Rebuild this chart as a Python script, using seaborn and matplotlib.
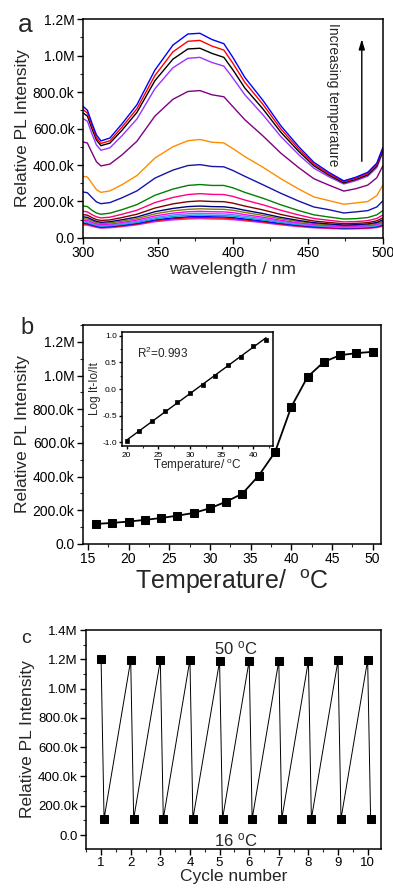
import numpy as np
import pandas as pd
import matplotlib
matplotlib.use("Agg")
import matplotlib.pyplot as plt
from matplotlib.ticker import FuncFormatter, MultipleLocator
import seaborn as sns

# ---- panel a: PL spectra (intensity in k counts) ----
wavelength = [300, 303, 306, 309, 312, 318, 326, 336, 348, 360, 370, 378, 386,
              394, 400, 408, 420, 432, 444, 454, 464, 474, 482, 490, 496, 500]

spec_blue = [722, 700, 630, 565, 532, 548, 625, 730, 920, 1057, 1118, 1122, 1088,
             1065, 990, 880, 755, 615, 500, 415, 360, 313, 333, 360, 410, 495]
spec_red = [704, 685, 615, 550, 518, 533, 607, 708, 890, 1020, 1078, 1083, 1052,
            1030, 958, 853, 733, 598, 487, 405, 352, 308, 327, 353, 402, 487]
spec_black = [686, 668, 600, 537, 506, 520, 590, 688, 862, 980, 1036, 1040, 1012,
              990, 922, 822, 708, 580, 474, 396, 345, 302, 321, 346, 395, 478]
spec_violet = [655, 640, 572, 510, 481, 494, 560, 652, 818, 933, 985, 990, 962,
               942, 877, 785, 676, 556, 456, 383, 336, 296, 314, 339, 386, 468]
spec_purple = [527, 520, 468, 418, 395, 405, 455, 530, 668, 760, 803, 808, 785,
               774, 720, 648, 560, 465, 385, 325, 290, 257, 270, 290, 330, 395]
spec_orange = [338, 334, 300, 265, 250, 258, 292, 342, 438, 500, 533, 540, 525,
               521, 490, 446, 388, 325, 268, 225, 205, 185, 192, 200, 232, 290]
spec_royal = [252, 248, 222, 198, 188, 194, 220, 258, 328, 372, 397, 402, 392,
              390, 370, 338, 292, 245, 202, 170, 155, 137, 143, 150, 170, 203]
spec_green = [176, 172, 152, 137, 130, 136, 155, 183, 234, 268, 288, 293, 288,
              288, 275, 250, 218, 182, 150, 127, 115, 104, 106, 112, 127, 150]
spec_pink = [147, 143, 128, 116, 110, 114, 130, 152, 194, 222, 238, 243, 239,
             238, 228, 208, 182, 152, 126, 107, 97, 88, 90, 95, 107, 126]
spec_wine = [128, 125, 112, 101, 96, 99, 112, 130, 164, 187, 199, 203, 200,
             199, 191, 175, 154, 129, 108, 93, 85, 78, 80, 84, 94, 110]
spec_navy = [116, 113, 101, 91, 86, 89, 100, 115, 144, 162, 172, 175, 172,
             171, 165, 152, 134, 113, 96, 84, 77, 71, 73, 77, 85, 99]
spec_olive = [106, 104, 94, 84, 79, 82, 92, 106, 132, 149, 157, 160, 158,
              157, 152, 140, 124, 105, 90, 79, 72, 67, 69, 72, 80, 92]
spec_magenta = [98, 96, 87, 78, 73, 76, 85, 98, 121, 136, 144, 146, 144,
                143, 139, 128, 114, 97, 83, 74, 68, 63, 65, 68, 75, 86]
spec_ltblue = [91, 89, 81, 73, 68, 71, 79, 91, 112, 126, 133, 135, 133,
               132, 128, 119, 106, 91, 78, 70, 64, 60, 61, 64, 70, 81]
spec_cyan = [86, 84, 76, 69, 64, 67, 74, 85, 105, 118, 124, 126, 124,
             123, 120, 111, 99, 85, 73, 66, 61, 57, 58, 61, 66, 76]
spec_blue2 = [81, 79, 72, 65, 60, 63, 70, 80, 99, 110, 116, 118, 116,
              115, 112, 104, 93, 80, 69, 62, 58, 54, 55, 58, 63, 72]
spec_red2 = [77, 75, 68, 62, 57, 60, 66, 76, 94, 105, 110, 112, 110,
             109, 106, 99, 88, 76, 66, 59, 55, 52, 53, 55, 60, 68]
spec_violet2 = [72, 70, 64, 58, 54, 56, 62, 72, 89, 99, 104, 106, 104,
                103, 100, 94, 84, 72, 62, 56, 52, 49, 50, 52, 57, 64]

spectra = [spec_violet2, spec_red2, spec_blue2, spec_cyan, spec_ltblue, spec_magenta,
           spec_olive, spec_navy, spec_wine, spec_pink, spec_green, spec_royal,
           spec_orange, spec_purple, spec_violet, spec_black, spec_red, spec_blue]
spec_colors = ["#CC33FF", "#FF0000", "#0000FF", "#00B0C0", "#6680FF", "#FF00FF",
               "#808000", "#000080", "#800000", "#FF0080", "#008000", "#1515A8",
               "#FF8C00", "#800080", "#9933FF", "#000000", "#FF0000", "#0000FF"]

# ---- panel b: intensity vs temperature ----
temp_b = [16, 18, 20, 22, 24, 26, 28, 30, 32, 34, 36, 38, 40, 42, 44, 46, 48, 50]
intensity_b = [119, 125, 133, 143, 154, 168, 184, 212, 251, 299, 406, 545, 814,
               992, 1081, 1121, 1133, 1141]

# inset: log fit
temp_in = [20, 22, 24, 26, 28, 30, 32, 34, 36, 38, 40, 42]
log_in = [-0.98, -0.79, -0.61, -0.42, -0.25, -0.07, 0.08, 0.25, 0.46, 0.61, 0.81, 0.93]

# ---- panel c: cycling ----
cycle_x = [1, 1.1, 2, 2.1, 3, 3.1, 4, 4.1, 5, 5.1, 6, 6.1, 7, 7.1, 8, 8.1, 9, 9.1, 10, 10.1]
cycle_y = [1200, 111, 1195, 111, 1193, 111, 1198, 111, 1186, 111, 1191, 111,
           1189, 111, 1189, 111, 1193, 111, 1195, 111]

sns.set_theme(style="ticks")
plt.rcParams["font.family"] = ["Liberation Sans", "DejaVu Sans"]
plt.rcParams["mathtext.fontset"] = "custom"
plt.rcParams["mathtext.rm"] = "Liberation Sans"
plt.rcParams["mathtext.it"] = "Liberation Sans:italic"


def kfmt(v, pos):
    if abs(v) < 1e-6:
        return "0.0"
    if v >= 1000:
        return f"{v / 1000:.1f}M"
    return f"{v:.1f}k"


def origin_style(ax, fs):
    for s in ax.spines.values():
        s.set_linewidth(1.1)
        s.set_color("black")
    ax.tick_params(which="major", direction="out", length=4, width=1, labelsize=fs,
                   top=False, right=False, pad=2, colors="black")
    ax.tick_params(which="minor", direction="out", length=2, width=0.8,
                   top=False, right=False)


fig = plt.figure(figsize=(3.93, 8.9), dpi=100)

# panel a
ax_a = fig.add_axes([0.211, 0.7326, 0.763, 0.246])
rows = []
for i, spec in enumerate(spectra):
    for w, v in zip(wavelength, spec):
        rows.append({"wavelength": w, "intensity": v, "curve": i})
df_a = pd.DataFrame(rows)
sns.lineplot(data=df_a, x="wavelength", y="intensity", hue="curve",
             palette=spec_colors, legend=False, sort=False, estimator=None,
             linewidth=1.0, ax=ax_a)
ax_a.set_xlim(300, 500)
ax_a.set_ylim(0, 1200)
ax_a.xaxis.set_major_locator(MultipleLocator(50))
ax_a.xaxis.set_minor_locator(MultipleLocator(25))
ax_a.yaxis.set_major_locator(MultipleLocator(200))
ax_a.yaxis.set_minor_locator(MultipleLocator(100))
ax_a.yaxis.set_major_formatter(FuncFormatter(kfmt))
ax_a.set_xlabel("wavelength / nm", fontsize=12.5, labelpad=1)
ax_a.set_ylabel("Relative PL Intensity", fontsize=12.5, labelpad=2)
origin_style(ax_a, 10)
ax_a.text(466.5, 783, "Increasing temperature", rotation=-90, ha="center",
          va="center", fontsize=10)
ax_a.annotate("", xy=(486, 1105), xytext=(486, 405),
              arrowprops=dict(arrowstyle="-|>,head_length=0.5,head_width=0.15",
                              color="black", lw=1.0))

# panel b
ax_b = fig.add_axes([0.211, 0.3888, 0.758, 0.246])
sns.lineplot(x=temp_b, y=intensity_b, color="black", marker="s", markersize=6,
             markeredgecolor="black", linewidth=1.3, ax=ax_b)
ax_b.set_xlim(14.4, 51.0)
ax_b.set_ylim(0, 1300)
ax_b.xaxis.set_major_locator(MultipleLocator(5))
ax_b.xaxis.set_minor_locator(MultipleLocator(2.5))
ax_b.yaxis.set_major_locator(MultipleLocator(200))
ax_b.yaxis.set_minor_locator(MultipleLocator(100))
ax_b.yaxis.set_major_formatter(FuncFormatter(kfmt))
ax_b.set_xlabel(r"Temperature/  $^{\mathrm{o}}$C", fontsize=18, labelpad=1)
ax_b.set_ylabel("Relative PL Intensity", fontsize=12.5, labelpad=2)
origin_style(ax_b, 10)

# inset
ax_in = fig.add_axes([0.3117, 0.4989, 0.383, 0.128])
sns.regplot(x=temp_in, y=log_in, ci=None, marker="s", color="black",
            scatter_kws=dict(s=10, edgecolor="black", linewidths=0.5, alpha=1),
            line_kws=dict(linewidth=1.0), ax=ax_in)
ax_in.set_xlim(19.34, 43.1)
ax_in.set_ylim(-1.07, 1.07)
ax_in.xaxis.set_major_locator(MultipleLocator(5))
ax_in.xaxis.set_minor_locator(MultipleLocator(2.5))
ax_in.yaxis.set_major_locator(MultipleLocator(0.5))
ax_in.yaxis.set_minor_locator(MultipleLocator(0.25))
ax_in.yaxis.set_major_formatter(FuncFormatter(lambda v, p: f"{v:.1f}"))
ax_in.set_xlabel(r"Temperature/ $^{\mathrm{o}}$C", fontsize=8.5, labelpad=-1)
ax_in.set_ylabel("Log It-Io/It", fontsize=8.5, labelpad=1)
origin_style(ax_in, 6)
ax_in.tick_params(which="major", length=2.5, pad=1.5)
ax_in.tick_params(which="minor", length=1.5)
ax_in.text(21.6, 0.66, r"R$^2$=0.993", fontsize=8.5, va="center")

# panel c
ax_c = fig.add_axes([0.2188, 0.0461, 0.7506, 0.246])
sns.lineplot(x=cycle_x, y=cycle_y, color="black", marker="s", markersize=5.5,
             markeredgecolor="black", linewidth=0.7, sort=False, ax=ax_c)
ax_c.set_xlim(0.49, 10.45)
ax_c.set_ylim(-95, 1400)
ax_c.xaxis.set_major_locator(MultipleLocator(1))
ax_c.xaxis.set_minor_locator(MultipleLocator(0.5))
ax_c.yaxis.set_major_locator(MultipleLocator(200))
ax_c.yaxis.set_minor_locator(MultipleLocator(100))
ax_c.yaxis.set_major_formatter(FuncFormatter(kfmt))
ax_c.set_xlabel("Cycle number", fontsize=12.5, labelpad=0)
ax_c.set_ylabel("Relative PL Intensity", fontsize=12.5, labelpad=2)
origin_style(ax_c, 9.5)
ax_c.text(5.55, 1275, r"50 $^{\mathrm{o}}$C", ha="center", va="center", fontsize=12)
ax_c.text(5.55, -36, r"16 $^{\mathrm{o}}$C", ha="center", va="center", fontsize=12)

# panel letters
fig.text(0.064, 0.972, "a", fontsize=19, ha="center", va="center")
fig.text(0.069, 0.631, "b", fontsize=17, ha="center", va="center")
fig.text(0.066, 0.283, "c", fontsize=14, ha="center", va="center")

fig.savefig("out.png", dpi=100)
plt.close(fig)
